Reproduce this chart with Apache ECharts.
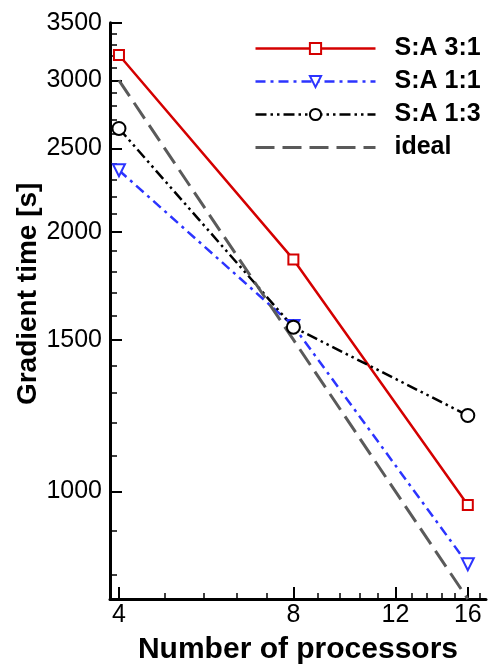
<!DOCTYPE html>
<html>
<head>
<meta charset="utf-8">
<script src="https://cdn.jsdelivr.net/npm/echarts@6/dist/echarts.min.js"></script>
<style>
html,body{margin:0;padding:0;background:#fff;}
#main{width:488px;height:667px;}
</style>
</head>
<body>
<div id="main"></div>
<script>
var processors = [4, 8, 16];
var sa31 = [3210, 1859, 964];
var sa11 = [2359, 1556, 823];
var sa13 = [2638, 1551, 1225];
var ideal = [3000, 1500, 750];

var xMajorTicks = [4, 8, 12, 16];
var xMinorTicks = [4.8, 5.6, 6.4, 7.2, 8.8, 9.6, 10.4, 11.2, 12.8, 13.6, 14.4, 15.2, 16.8];
var yMajorTicks = [1000, 1500, 2000, 2500, 3000, 3500];
var yMinorTicks = [800, 900, 1100, 1200, 1300, 1400, 1600, 1700, 1800, 1900,
                   2100, 2200, 2300, 2400, 2600, 2700, 2800, 2900, 3100, 3200, 3300, 3400];

function pairs(xs, ys) {
    var out = [];
    for (var i = 0; i < xs.length; i++) out.push([xs[i], ys[i]]);
    return out;
}
function plain(v) { return String(Math.round(v)); }

var font = "'Liberation Sans', Arial, Helvetica, sans-serif";
var chart = echarts.init(document.getElementById('main'));

var option = {
    animation: false,
    backgroundColor: '#fff',
    textStyle: { fontFamily: font, color: '#000' },
    grid: { left: 110, right: 2, top: 22.7, bottom: 68, containLabel: false, outerBoundsMode: 'none' },
    legend: {
        orient: 'vertical',
        left: 249,
        top: 31,
        itemWidth: 120,
        itemHeight: 14,
        itemGap: 8,
        textStyle: { fontSize: 25, fontWeight: 'bold', color: '#000', lineHeight: 25, padding: [0, 0, 0, 14], fontFamily: font },
        data: [
            { name: 'S:A 3:1', lineStyle: { width: 2.5 } },
            { name: 'S:A 1:1', lineStyle: { width: 2.5 } },
            { name: 'S:A 1:3', lineStyle: { width: 2.5 } },
            { name: 'ideal', lineStyle: { width: 3 }, itemStyle: { opacity: 0 } }
        ]
    },
    xAxis: [
        {
            type: 'log', logBase: 2, min: 3.86, max: 17.2,
            name: 'Number of processors',
            nameLocation: 'middle', nameGap: 36, nameMoveOverlap: false,
            nameTextStyle: { fontSize: 30, fontWeight: 'bold', color: '#000', fontFamily: font },
            axisLine: { show: true, lineStyle: { color: '#000', width: 3 } },
            axisTick: { inside: true, length: 12, lineStyle: { color: '#000', width: 2 }, customValues: xMajorTicks },
            axisLabel: { fontSize: 25, color: '#000', margin: 4, customValues: xMajorTicks, formatter: plain, fontFamily: font },
            splitLine: { show: false }, minorTick: { show: false }
        },
        {
            // minor ticks only
            type: 'log', logBase: 2, min: 3.86, max: 17.2, position: 'bottom', offset: 0,
            axisLine: { show: true, onZero: false, lineStyle: { opacity: 0 } },
            axisTick: { inside: true, length: 6, lineStyle: { color: '#000', width: 1.5 }, customValues: xMinorTicks },
            axisLabel: { show: false },
            splitLine: { show: false }
        }
    ],
    yAxis: [
        {
            type: 'log', logBase: 10, min: 750, max: 3500,
            name: 'Gradient time [s]',
            nameLocation: 'middle', nameGap: 68, nameMoveOverlap: false,
            nameTextStyle: { fontSize: 28, fontWeight: 'bold', color: '#000', padding: [0, 0, 0, 34], fontFamily: font },
            axisLine: { show: true, lineStyle: { color: '#000', width: 3 } },
            axisTick: { inside: true, length: 12, lineStyle: { color: '#000', width: 2 }, customValues: yMajorTicks },
            axisLabel: { fontSize: 25, color: '#000', margin: 8, customValues: yMajorTicks, formatter: plain, fontFamily: font },
            splitLine: { show: false }, minorTick: { show: false }
        },
        {
            // minor ticks only
            type: 'log', logBase: 10, min: 750, max: 3500, position: 'left', offset: 0,
            axisLine: { show: true, onZero: false, lineStyle: { opacity: 0 } },
            axisTick: { inside: true, length: 7, lineStyle: { color: '#000', width: 1.5 }, customValues: yMinorTicks },
            axisLabel: { show: false },
            splitLine: { show: false }
        }
    ],
    series: [
        {
            name: 'S:A 3:1', type: 'line', data: pairs(processors, sa31),
            symbol: 'emptyRect', symbolSize: 10,
            itemStyle: { color: '#d40000', borderWidth: 2 },
            lineStyle: { color: '#d40000', width: 2.5 }
        },
        {
            name: 'S:A 1:1', type: 'line', data: pairs(processors, sa11),
            symbol: 'emptyTriangle', symbolRotate: 180, symbolSize: 12,
            itemStyle: { color: '#2c34ff', borderWidth: 2 },
            lineStyle: { color: '#2c34ff', width: 2.5, type: [10, 5, 3, 5] }
        },
        {
            name: 'S:A 1:3', type: 'line', data: pairs(processors, sa13),
            symbol: 'emptyCircle', symbolSize: 13,
            itemStyle: { color: '#000', borderWidth: 2.5 },
            lineStyle: { color: '#000', width: 2.5, type: [11, 4, 2.5, 4, 2.5, 4] }
        },
        {
            name: 'ideal', type: 'line', data: pairs(processors, ideal),
            symbol: 'none',
            itemStyle: { color: '#5a5a5a' },
            lineStyle: { color: '#5a5a5a', width: 3, type: [19, 8] }
        }
    ]
};

chart.setOption(option);
</script>
</body>
</html>
